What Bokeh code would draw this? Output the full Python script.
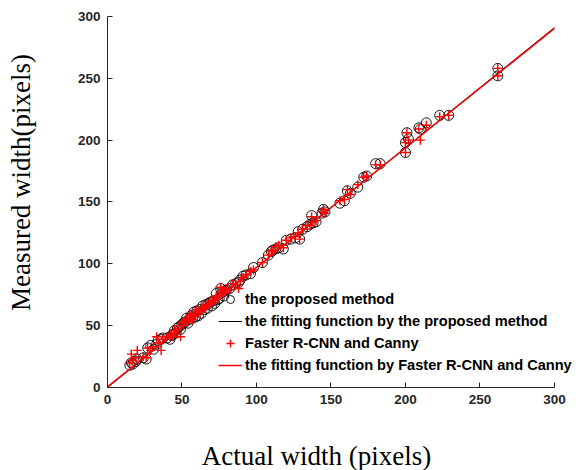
import math
from bokeh.plotting import figure
from bokeh.models import Range1d, Legend, LegendItem, Label, FixedTicker
from bokeh.embed import file_html
from bokeh.resources import INLINE

# Actual width (pixels) and measured widths
actual_w = [15, 16, 17, 19, 20, 24, 26, 27, 29, 31, 33, 34, 36, 37, 40, 42, 43, 44, 45, 46,
            47, 48, 49, 50, 51, 52, 53, 54, 55, 56, 57, 58, 59, 60, 61, 62, 63, 64, 65, 66,
            67, 68, 69, 70, 71, 72, 73, 74, 75, 76, 77, 78, 79, 80, 82, 84, 86, 88, 89, 91,
            93, 96, 98, 104, 108, 110, 111, 113, 115, 118, 120, 123, 126, 128, 129, 131, 134, 136, 137, 138,
            140, 144, 145, 146, 156, 159, 161, 163, 168, 172, 174, 180, 183, 200, 200, 201, 202, 209, 210, 214,
            223, 229, 262, 262]
proposed_w = [18, 20, 19, 21, 23, 24, 23, 32, 34, 31, 35, 38, 39, 40, 40, 39, 42, 43, 46, 44,
              48, 49, 47, 51, 52, 53, 56, 52, 55, 58, 56, 61, 57, 62, 58, 63, 60, 66, 63, 67,
              64, 68, 69, 66, 70, 68, 76, 71, 72, 80, 77, 74, 78, 79, 80, 83, 84, 85, 87, 90,
              91, 92, 97, 101, 107, 110, 111, 112, 113, 112, 119, 120, 121, 126, 120, 128, 130, 132, 139, 133,
              134, 141, 144, 142, 149, 151, 159, 157, 162, 170, 171, 181, 181, 190, 198, 206, 201, 210, 209, 214,
              220, 220, 258, 252]
frcnn_w = [20, 27, 22, 24, 30, 25, 24, 32, 30, 33, 41, 36, 30, 39, 41, 42, 43, 41, 46, 44,
           47, 50, 41, 52, 50, 54, 55, 53, 58, 59, 55, 60, 58, 63, 60, 62, 62, 65, 64, 66,
           66, 67, 70, 68, 69, 71, 74, 72, 74, 81, 78, 76, 77, 80, 79, 84, 83, 80, 86, 89,
           91, 94, 95, 101, 107, 111, 110, 114, 115, 113, 119, 121, 122, 125, 120, 128, 131, 131, 138, 134,
           135, 142, 144, 141, 151, 152, 160, 156, 164, 170, 171, 180, 180, 190, 198, 206, 200, 209, 200, 212,
           219, 220, 258, 252]

# linear fits: slope, intercept
fit_proposed = [0.970, 0.0]
fit_frcnn = [0.966, 0.5]
fit_x = [0, 300]

ticks = [0, 50, 100, 150, 200, 250, 300]
axis_bounds = (0, 300)

# The frame spans the whole canvas; the axes sit at 0 and are bounded to 0..300
p = figure(width=576, height=470, x_range=Range1d(-71.8, 314.8), y_range=Range1d(-67.1, 312.9),
           output_backend="svg", toolbar_location=None,
           min_border_left=0, min_border_right=0, min_border_top=0, min_border_bottom=0)
p.outline_line_color = None
p.grid.visible = False
p.background_fill_color = "white"
p.border_fill_color = "white"

for ax in (p.xaxis[0], p.yaxis[0]):
    ax.fixed_location = 0
    ax.bounds = axis_bounds
    ax.ticker = FixedTicker(ticks=ticks)
    ax.major_tick_in = 5
    ax.major_tick_out = 0
    ax.minor_tick_line_color = None
    ax.axis_line_color = "#262626"
    ax.major_tick_line_color = "#262626"
    ax.major_label_text_font = "Liberation Sans"
    ax.major_label_text_font_style = "bold"
    ax.major_label_text_font_size = "13.5px"
    ax.major_label_text_color = "#262626"
    ax.major_label_standoff = 7

r_circ = p.scatter(actual_w, proposed_w, marker="circle", size=10, fill_color=None,
                   line_color="black", line_width=0.9)
fx = fit_x
r_fit1 = p.line(fx, [fit_proposed[0] * v + fit_proposed[1] for v in fx], line_color="black", line_width=1)
r_plus = p.scatter(actual_w, frcnn_w, marker="cross", size=9, line_color="red", line_width=1.4)
r_fit2 = p.line(fx, [fit_frcnn[0] * v + fit_frcnn[1] for v in fx], line_color="red", line_width=1.5)

legend = Legend(items=[
    LegendItem(label="the proposed method", renderers=[r_circ]),
    LegendItem(label="the fitting function by the proposed method", renderers=[r_fit1]),
    LegendItem(label="Faster R-CNN and Canny", renderers=[r_plus]),
    LegendItem(label="the fitting function by Faster R-CNN and Canny", renderers=[r_fit2]),
], location=(218, 95), border_line_color=None, background_fill_alpha=0, padding=0, margin=0,
    spacing=2, glyph_width=24, glyph_height=20, label_height=20, label_standoff=3,
    label_text_font="Liberation Sans", label_text_font_style="bold", label_text_font_size="14.6px",
    label_text_color="black")
p.add_layout(legend)

xl = Label(x=316, y=455, x_units="canvas", y_units="canvas", text="Actual width (pixels)",
           text_align="center", text_baseline="alphabetic", text_font="Liberation Serif",
           text_font_size="27px", text_color="black")
p.add_layout(xl)
yl = Label(x=20, y=182, x_units="canvas", y_units="canvas", text="Measured width(pixels)",
           angle=math.pi / 2, text_align="center", text_baseline="alphabetic",
           text_font="Liberation Serif", text_font_size="27px", text_color="black")
p.add_layout(yl)

open("out.html", "w").write(file_html(p, INLINE))
